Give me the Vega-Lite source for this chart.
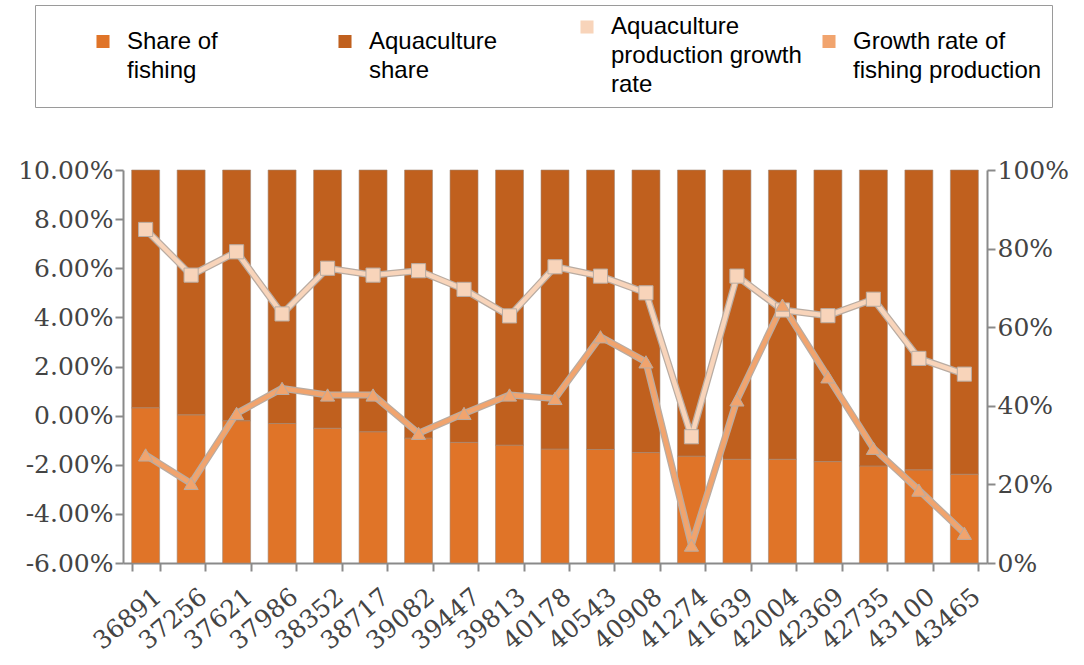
{
  "$schema": "https://vega.github.io/schema/vega-lite/v6.json",
  "width": 864,
  "height": 393,
  "autosize": {"type": "none"},
  "padding": {"left": 123, "top": 170, "right": 97, "bottom": 102},
  "background": "white",
  "config": {
    "view": {"stroke": null},
    "style": {"guide-label": {"lineHeight": 29}},
    "axis": {
      "grid": false,
      "domainColor": "#8a8a8a",
      "domainWidth": 2,
      "tickColor": "#8a8a8a",
      "tickWidth": 2,
      "tickSize": 8,
      "labelFont": "DejaVu Serif",
      "labelFontSize": 25,
      "labelColor": "#444444",
      "title": null
    },
    "legend": {
      "orient": "none",
      "legendX": -88,
      "legendY": -165,
      "direction": "horizontal",
      "columns": 4,
      "columnPadding": 15,
      "gridAlign": "all",
      "padding": 10,
      "strokeColor": "#9a9a9a",
      "fillColor": "white",
      "titleOrient": "left",
      "titlePadding": 46,
      "titleFontSize": 4,
      "symbolType": "square",
      "symbolSize": 170,
      "symbolStrokeWidth": 0,
      "labelOffset": 12,
      "labelLimit": 300,
      "labelFont": "Liberation Sans",
      "labelFontSize": 24,
      "labelColor": "#000000"
    }
  },
  "datasets": {
    "shares": [
      {"year": "36891", "series": "Share of fishing", "share": 0.395},
      {"year": "37256", "series": "Share of fishing", "share": 0.377},
      {"year": "37621", "series": "Share of fishing", "share": 0.362},
      {"year": "37986", "series": "Share of fishing", "share": 0.355},
      {"year": "38352", "series": "Share of fishing", "share": 0.343},
      {"year": "38717", "series": "Share of fishing", "share": 0.334},
      {"year": "39082", "series": "Share of fishing", "share": 0.318},
      {"year": "39447", "series": "Share of fishing", "share": 0.307},
      {"year": "39813", "series": "Share of fishing", "share": 0.300},
      {"year": "40178", "series": "Share of fishing", "share": 0.290},
      {"year": "40543", "series": "Share of fishing", "share": 0.289},
      {"year": "40908", "series": "Share of fishing", "share": 0.281},
      {"year": "41274", "series": "Share of fishing", "share": 0.272},
      {"year": "41639", "series": "Share of fishing", "share": 0.264},
      {"year": "42004", "series": "Share of fishing", "share": 0.264},
      {"year": "42369", "series": "Share of fishing", "share": 0.258},
      {"year": "42735", "series": "Share of fishing", "share": 0.247},
      {"year": "43100", "series": "Share of fishing", "share": 0.237},
      {"year": "43465", "series": "Share of fishing", "share": 0.226},
      {"year": "36891", "series": "Aquaculture share", "share": 0.605},
      {"year": "37256", "series": "Aquaculture share", "share": 0.623},
      {"year": "37621", "series": "Aquaculture share", "share": 0.638},
      {"year": "37986", "series": "Aquaculture share", "share": 0.645},
      {"year": "38352", "series": "Aquaculture share", "share": 0.657},
      {"year": "38717", "series": "Aquaculture share", "share": 0.666},
      {"year": "39082", "series": "Aquaculture share", "share": 0.682},
      {"year": "39447", "series": "Aquaculture share", "share": 0.693},
      {"year": "39813", "series": "Aquaculture share", "share": 0.700},
      {"year": "40178", "series": "Aquaculture share", "share": 0.710},
      {"year": "40543", "series": "Aquaculture share", "share": 0.711},
      {"year": "40908", "series": "Aquaculture share", "share": 0.719},
      {"year": "41274", "series": "Aquaculture share", "share": 0.728},
      {"year": "41639", "series": "Aquaculture share", "share": 0.736},
      {"year": "42004", "series": "Aquaculture share", "share": 0.736},
      {"year": "42369", "series": "Aquaculture share", "share": 0.742},
      {"year": "42735", "series": "Aquaculture share", "share": 0.753},
      {"year": "43100", "series": "Aquaculture share", "share": 0.763},
      {"year": "43465", "series": "Aquaculture share", "share": 0.774}
    ],
    "growth": [
      {"year": "36891", "series": "Aquaculture production growth rate", "rate": 0.0758},
      {"year": "37256", "series": "Aquaculture production growth rate", "rate": 0.0572},
      {"year": "37621", "series": "Aquaculture production growth rate", "rate": 0.0667},
      {"year": "37986", "series": "Aquaculture production growth rate", "rate": 0.0414},
      {"year": "38352", "series": "Aquaculture production growth rate", "rate": 0.0600},
      {"year": "38717", "series": "Aquaculture production growth rate", "rate": 0.0572},
      {"year": "39082", "series": "Aquaculture production growth rate", "rate": 0.0590},
      {"year": "39447", "series": "Aquaculture production growth rate", "rate": 0.0514},
      {"year": "39813", "series": "Aquaculture production growth rate", "rate": 0.0406},
      {"year": "40178", "series": "Aquaculture production growth rate", "rate": 0.0606},
      {"year": "40543", "series": "Aquaculture production growth rate", "rate": 0.0568},
      {"year": "40908", "series": "Aquaculture production growth rate", "rate": 0.0500},
      {"year": "41274", "series": "Aquaculture production growth rate", "rate": -0.0086},
      {"year": "41639", "series": "Aquaculture production growth rate", "rate": 0.0568},
      {"year": "42004", "series": "Aquaculture production growth rate", "rate": 0.0430},
      {"year": "42369", "series": "Aquaculture production growth rate", "rate": 0.0407},
      {"year": "42735", "series": "Aquaculture production growth rate", "rate": 0.0474},
      {"year": "43100", "series": "Aquaculture production growth rate", "rate": 0.0233},
      {"year": "43465", "series": "Aquaculture production growth rate", "rate": 0.0169},
      {"year": "36891", "series": "Growth rate of fishing production", "rate": -0.0160},
      {"year": "37256", "series": "Growth rate of fishing production", "rate": -0.0276},
      {"year": "37621", "series": "Growth rate of fishing production", "rate": 0.0009},
      {"year": "37986", "series": "Growth rate of fishing production", "rate": 0.0111},
      {"year": "38352", "series": "Growth rate of fishing production", "rate": 0.0084},
      {"year": "38717", "series": "Growth rate of fishing production", "rate": 0.0084},
      {"year": "39082", "series": "Growth rate of fishing production", "rate": -0.0072},
      {"year": "39447", "series": "Growth rate of fishing production", "rate": 0.0009},
      {"year": "39813", "series": "Growth rate of fishing production", "rate": 0.0084},
      {"year": "40178", "series": "Growth rate of fishing production", "rate": 0.0070},
      {"year": "40543", "series": "Growth rate of fishing production", "rate": 0.0321},
      {"year": "40908", "series": "Growth rate of fishing production", "rate": 0.0219},
      {"year": "41274", "series": "Growth rate of fishing production", "rate": -0.0527},
      {"year": "41639", "series": "Growth rate of fishing production", "rate": 0.0064},
      {"year": "42004", "series": "Growth rate of fishing production", "rate": 0.0450},
      {"year": "42369", "series": "Growth rate of fishing production", "rate": 0.0158},
      {"year": "42735", "series": "Growth rate of fishing production", "rate": -0.0133},
      {"year": "43100", "series": "Growth rate of fishing production", "rate": -0.0303},
      {"year": "43465", "series": "Growth rate of fishing production", "rate": -0.0479}
    ]
  },
  "encoding": {
    "x": {
      "field": "year",
      "type": "nominal",
      "sort": null,
      "scale": {"paddingInner": 0.385, "paddingOuter": 0.19},
      "axis": {
        "orient": "bottom",
        "tickBand": "extent",
        "labelAngle": -40,
        "labelAlign": "right",
        "labelBaseline": "middle",
        "labelPadding": 22,
        "labelOffset": 12,
        "labelFontSize": 25
      }
    },
    "color": {
      "field": "series",
      "type": "nominal",
      "title": " ",
      "scale": {
        "domain": ["Share of fishing", "Aquaculture share", "Aquaculture production growth rate", "Growth rate of fishing production"],
        "range": ["#e07428", "#c0601e", "#f8d4ba", "#f1a46e"]
      },
      "legend": {
        "labelExpr": "datum.label == 'Share of fishing' ? ['Share of', 'fishing'] : datum.label == 'Aquaculture share' ? ['Aquaculture', 'share'] : datum.label == 'Aquaculture production growth rate' ? ['Aquaculture', 'production growth', 'rate'] : ['Growth rate of', 'fishing production']"
      }
    }
  },
  "layer": [
    {
      "data": {"name": "shares"},
      "mark": {"type": "bar", "stroke": "#a08878", "strokeWidth": 1, "strokeOpacity": 0.6},
      "encoding": {
        "y": {
          "field": "share",
          "type": "quantitative",
          "stack": "zero",
          "scale": {"domain": [0, 1], "nice": false},
          "axis": {
            "orient": "right",
            "values": [0, 0.2, 0.4, 0.6, 0.8, 1],
            "format": ".0%",
            "labelPadding": 2
          }
        },
        "order": {"field": "series", "sort": "descending"}
      }
    },
    {
      "data": {"name": "growth"},
      "encoding": {
        "y": {
          "field": "rate",
          "type": "quantitative",
          "scale": {"domain": [-0.06, 0.1], "nice": false, "zero": false},
          "axis": {
            "orient": "left",
            "values": [-0.06, -0.04, -0.02, 0, 0.02, 0.04, 0.06, 0.08, 0.1],
            "labelExpr": "replace(format(datum.value, '.2%'), '−', '-')",
            "labelPadding": 2
          }
        }
      },
      "layer": [
        {
          "mark": {"type": "line", "strokeWidth": 7, "color": "#b9aca2", "strokeJoin": "round"},
          "encoding": {"detail": {"field": "series"}, "color": {"value": "#b9aca2"}}
        },
        {
          "mark": {"type": "line", "strokeWidth": 4.5, "strokeJoin": "round"}
        },
        {
          "mark": {"type": "point", "filled": true, "size": 200, "opacity": 1, "stroke": "#b9aca2", "strokeWidth": 1},
          "encoding": {
            "shape": {
              "field": "series",
              "type": "nominal",
              "scale": {
                "domain": ["Aquaculture production growth rate", "Growth rate of fishing production"],
                "range": ["square", "triangle-up"]
              },
              "legend": null
            }
          }
        }
      ]
    }
  ],
  "resolve": {"scale": {"y": "independent"}}
}
